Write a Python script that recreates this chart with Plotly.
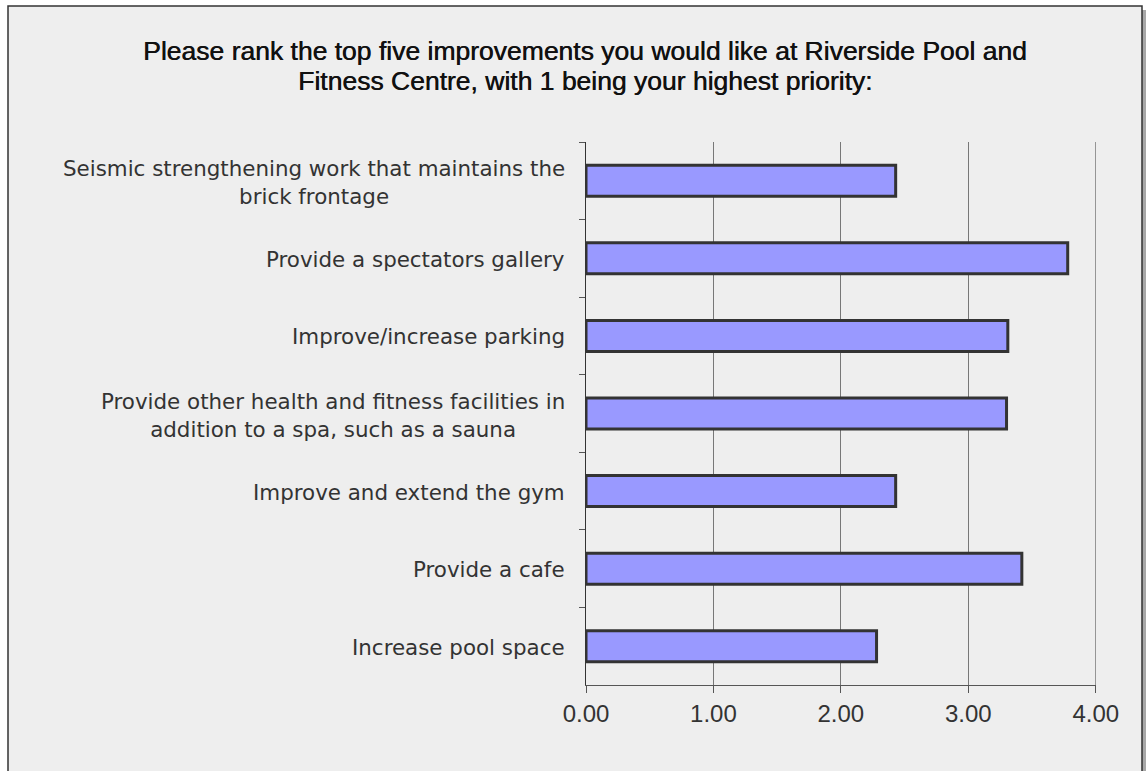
import plotly.graph_objects as go

# ---- data ----
categories = [
    "Seismic strengthening work that maintains the<br>brick frontage",
    "Provide a spectators gallery",
    "Improve/increase parking",
    "Provide other health and fitness facilities in<br>addition to a spa, such as a sauna",
    "Improve and extend the gym",
    "Provide a cafe",
    "Increase pool space",
]
values = [2.43, 3.78, 3.31, 3.30, 2.43, 3.42, 2.28]
x_tickvals = [0, 1, 2, 3, 4]
x_ticktext = ["0.00", "1.00", "2.00", "3.00", "4.00"]
title_lines = [
    "Please rank the top five improvements you would like at Riverside Pool and",
    "Fitness Centre, with 1 being your highest priority:",
]

# ---- geometry (pixels) ----
W, H = 1146, 771
ML, MR, MT, MB = 586, 50, 142, 86
PW, PH = W - ML - MR, H - MT - MB


def px_x(p):
    return (p - ML) / PW


def px_y(p):
    return (H - MB - p) / PH


fig = go.Figure()
fig.add_trace(go.Bar(
    x=values,
    y=categories,
    orientation="h",
    marker=dict(color="#9999FF", line=dict(color="#333333", width=3)),
    hoverinfo="x+y",
))

annotations = []
for cat in categories:
    multi = "<br>" in cat
    annotations.append(dict(
        x=0, xref="paper", xanchor="right", xshift=-19,
        y=cat, yref="y", yanchor="middle", yshift=-2 if multi else -1,
        text=cat, showarrow=False, align="center",
        font=dict(family="DejaVu Sans", size=21.4, color="#333333"),
    ))
for i, line in enumerate(title_lines):
    annotations.append(dict(
        x=px_x(585), xref="paper", xanchor="center",
        y=px_y(51 + 30 * i), yref="paper", yanchor="middle",
        text=line, showarrow=False,
        font=dict(family="Liberation Sans, Arial", size=26.5, color="#111111",
                  shadow="0.5px 0px 0px #111111"),
    ))

shapes = [
    # shadow
    dict(type="rect", xref="paper", yref="paper", layer="below",
         x0=px_x(12), x1=px_x(1146), y0=px_y(790), y1=px_y(10),
         fillcolor="#A8A8A8", line=dict(width=0)),
    # frame
    dict(type="rect", xref="paper", yref="paper", layer="below",
         x0=px_x(8), x1=px_x(1142), y0=px_y(790), y1=px_y(6),
         fillcolor="#EEEEEE", line=dict(color="#333333", width=1.5)),
    # gridline at the last x tick (plotly omits it at the range edge)
    dict(type="line", xref="x", yref="paper", layer="below",
         x0=x_tickvals[-1], x1=x_tickvals[-1], y0=0, y1=1,
         line=dict(color="#777777", width=1)),
]

fig.update_layout(
    width=W, height=H,
    margin=dict(l=ML, r=MR, t=MT, b=MB, pad=0),
    paper_bgcolor="white",
    plot_bgcolor="rgba(0,0,0,0)",
    showlegend=False,
    bargap=0.6,
    annotations=annotations,
    shapes=shapes,
    xaxis=dict(
        range=[0, 4.002], tickvals=x_tickvals, ticktext=x_ticktext,
        showgrid=True, gridcolor="#777777", gridwidth=1,
        zeroline=False, showline=True, linecolor="#555555", linewidth=1,
        ticks="outside", ticklen=7, tickcolor="#555555",
        tickfont=dict(family="Liberation Sans, Arial", size=24, color="#333333"),
        fixedrange=True,
    ),
    yaxis=dict(
        type="category", autorange="reversed",
        showgrid=False, zeroline=False,
        showline=True, linecolor="#333333", linewidth=1,
        ticks="outside", ticklen=6, tickcolor="#555555", tickson="boundaries",
        showticklabels=False, fixedrange=True,
    ),
)

fig.write_html("out.html")
